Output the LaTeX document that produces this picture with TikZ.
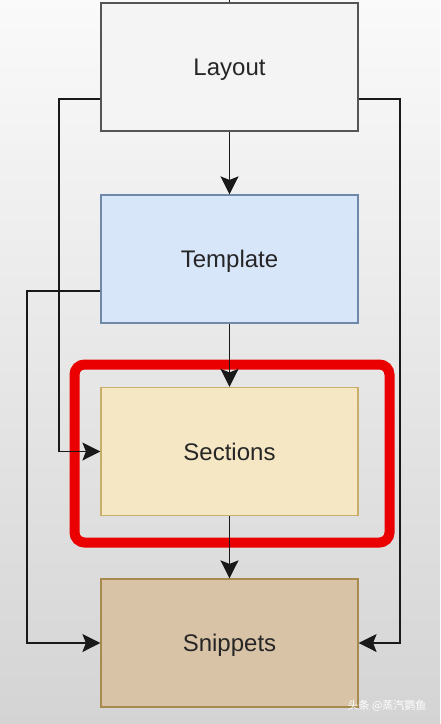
\documentclass[tikz,border=0pt]{standalone}
\usepackage{fontspec}
\setmainfont{Liberation Sans}
\newfontfamily\cjk{Noto Sans CJK SC}
\usetikzlibrary{arrows.meta}
\definecolor{bgtop}{HTML}{FAFAFA}
\definecolor{bgbot}{HTML}{D4D4D4}
\definecolor{layfill}{HTML}{F4F4F4}
\definecolor{layline}{HTML}{555555}
\definecolor{tplfill}{HTML}{D8E6FA}
\definecolor{tplline}{HTML}{6F8AA8}
\definecolor{secfill}{HTML}{F6E7C4}
\definecolor{secline}{HTML}{C9AE6A}
\definecolor{snifill}{HTML}{D9C3A6}
\definecolor{sniline}{HTML}{A88A4E}
\definecolor{hl}{HTML}{EA0000}
\tikzset{
  x=1pt, y=-1pt,
  box/.style={draw, line width=1.2pt, minimum width=257pt, minimum height=128pt, font=\fontsize{24}{28}\selectfont, text=black!85, inner sep=0pt, text depth=0pt},
  conn/.style={draw=black!90, line width=1.3pt},
  arr/.style={conn, -{Stealth[length=18pt, width=18pt, inset=3.5pt]}},
}
\begin{document}
\begin{tikzpicture}
\shade[top color=bgtop, bottom color=bgbot] (0,0) rectangle (440,724);
\useasboundingbox (0,0) rectangle (440,724);
% boxes
\node[box, fill=layfill, draw=layline] (lay) at (229.5,67) {Layout};
\node[box, fill=tplfill, draw=tplline] (tpl) at (229.5,259) {Template};
\node[box, fill=secfill, draw=secline] (sec) at (229.5,451.5) {Sections};
\node[box, fill=snifill, draw=sniline] (sni) at (229.5,643) {Snippets};
% highlight
\node[draw=hl, line width=10pt, rounded corners=10pt, minimum width=315pt, minimum height=178pt, inner sep=0pt] (hlbox) at (232,453.5) {};
% top stub
\coordinate (topin) at (229.5,0);
\draw[conn] (topin) -- (lay.north);
% vertical arrows
\draw[arr] (lay.south) -- (tpl.north);
\draw[arr] (tpl.south) -- (sec.north);
\draw[arr] (sec.south) -- (sni.north);
% side connectors
\draw[arr] ([yshift=-32pt]lay.west) -- (59,99) |- (sec.west);
\draw[arr] ([yshift=-32pt]lay.east) -- (400,99) |- (sni.east);
\draw[arr] ([yshift=-32pt]tpl.west) -- (27,291) |- (sni.west);
% watermark
\node[font=\cjk\fontsize{11}{13}\selectfont, text=white, anchor=east] (wm) at (430,706) {头条 @蒸汽鹦鱼};
\end{tikzpicture}
\end{document}
